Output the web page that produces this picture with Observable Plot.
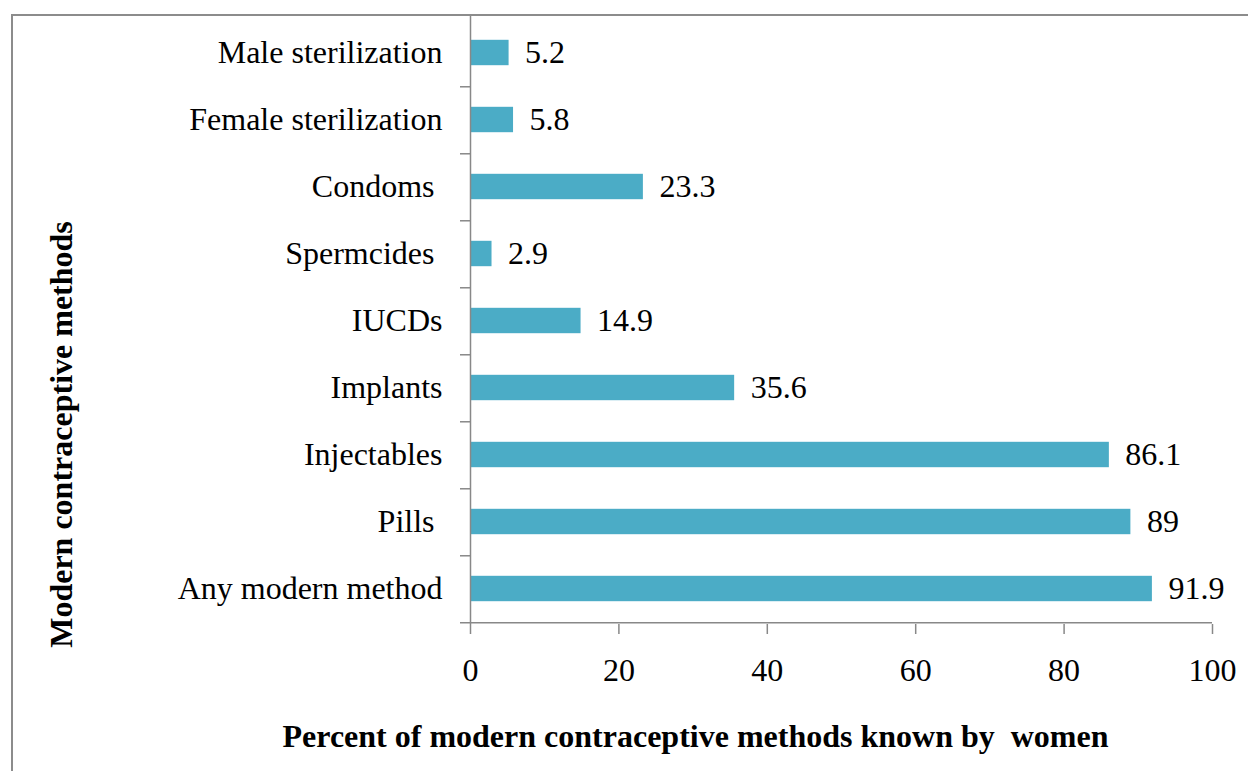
<!DOCTYPE html>
<html><head><meta charset="utf-8">
<script src="https://cdn.jsdelivr.net/npm/d3@7"></script>
<script src="https://cdn.jsdelivr.net/npm/@observablehq/plot@0.6"></script>
<style>
html,body{margin:0;padding:0;background:#fff;overflow:hidden;}
#frame{position:absolute;left:11px;top:14px;width:1400px;height:900px;border-left:2px solid #8c8c8c;border-top:2px solid #8c8c8c;}
#chart{position:absolute;left:0;top:0;}
#chart svg text{white-space:pre;}
</style></head>
<body><div id="frame"></div><div id="chart"></div>
<script>
const methods = ["Male sterilization","Female sterilization","Condoms ","Spermcides ","IUCDs","Implants","Injectables","Pills ","Any modern method"];
const percents = [5.2,5.8,23.3,2.9,14.9,35.6,86.1,89,91.9];
const xTicks = [0,20,40,60,80,100];
const xTitle = "Percent of modern contraceptive methods known by  women";
const yTitle = "Modern contraceptive methods";

const data = methods.map((m,i)=>({method:m, pct:percents[i]}));
const axisColor = "#888888";
const barColor = "#4bacc6";
const W = 1248, H = 771, mL = 470, mR = 36, mT = 16, mB = 147;
const step = (H - mT - mB) / methods.length;
const tickLenUnits = 10 / ((W - mL - mR) / 100);

const chart = Plot.plot({
  width: W, height: H,
  marginLeft: mL, marginRight: mR, marginTop: mT, marginBottom: mB,
  style: {fontFamily: "Liberation Serif, Times New Roman, serif", fontSize: "32px", color: "#000", background: "transparent"},
  x: {domain: [0, 100]},
  y: {domain: methods, padding: 0},
  marks: [
    Plot.barX(data, {x: "pct", y: "method", fill: barColor, insetTop: 20.8, insetBottom: 20.8}),
    Plot.ruleX([0], {stroke: axisColor, strokeWidth: 1.5}),
    Plot.ruleY(methods.slice(0, -1), {y: d => d, x1: -tickLenUnits, x2: 0, dy: step / 2, stroke: axisColor, strokeWidth: 1.5}),
    Plot.ruleY(methods.slice(-1), {y: d => d, x1: -tickLenUnits, x2: 100, dy: step / 2, stroke: axisColor, strokeWidth: 1.5}),
    Plot.text(data, {x: "pct", y: "method", text: d => String(d.pct), textAnchor: "start", dx: 16, fontSize: 32, fill: "#000"}),
    Plot.axisY({tickSize: 0, tickPadding: 28, fontSize: 32, label: null, fill: "#000"}),
    Plot.axisX({ticks: xTicks, tickSize: 10, tickPadding: 24, fontSize: 32, label: null, stroke: axisColor, strokeWidth: 1.5, fill: "#000"}),
    Plot.text([xTitle], {frameAnchor: "bottom", dx: -146, dy: 122, fontSize: 32, fontWeight: "bold", fill: "#000"}),
    Plot.text([yTitle], {frameAnchor: "left", textAnchor: "middle", rotate: -90, dx: -409, dy: 114, fontSize: 32, fontWeight: "bold", fill: "#000"})
  ]
});
document.getElementById("chart").append(chart);
</script>
</body></html>
